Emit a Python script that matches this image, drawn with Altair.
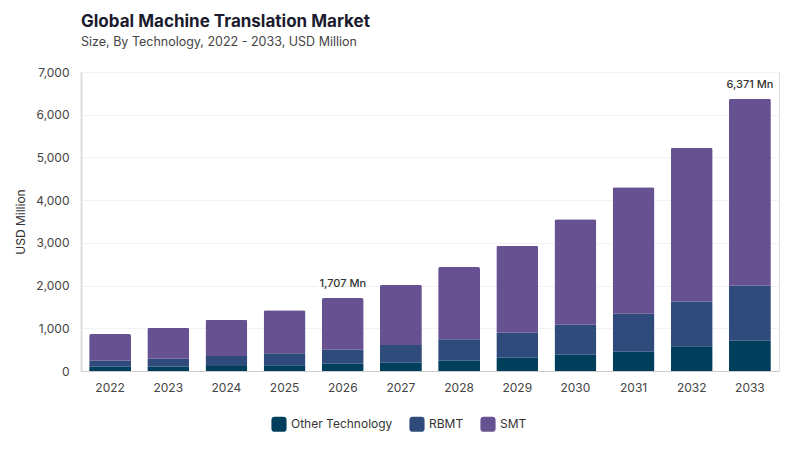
import altair as alt
import pandas as pd

years = ["2022", "2023", "2024", "2025", "2026", "2027", "2028", "2029", "2030", "2031", "2032", "2033"]
other_tech = [100, 105, 118, 133, 171, 194, 241, 311, 382, 452, 578, 709]
rbmt = [141, 183, 233, 281, 328, 415, 501, 586, 702, 890, 1045, 1288]
smt = [625, 726, 850, 1007, 1208, 1412, 1693, 2037, 2468, 2959, 3606, 4374]
series_names = ["Other Technology", "RBMT", "SMT"]
series_colors = ["#003f5c", "#2f4b7c", "#665191"]
label_years = ["2026", "2033"]
y_ticks = [0, 1000, 2000, 3000, 4000, 5000, 6000, 7000]

rows = []
for i, y in enumerate(years):
    for k, (name, vals) in enumerate(zip(series_names, [other_tech, rbmt, smt])):
        rows.append({"year": y, "tech": name, "value": vals[i], "order": k})
df = pd.DataFrame(rows)

totals = pd.DataFrame({
    "year": years,
    "total": [a + b + c for a, b, c in zip(other_tech, rbmt, smt)],
})
labels_df = totals[totals["year"].isin(label_years)].copy()
labels_df["label"] = labels_df["total"].map(lambda v: f"{v:,} Mn")

FONT = "Inter"
ROUNDED_SQUARE = ("M-0.55,-1 L0.55,-1 Q1,-1 1,-0.55 L1,0.55 Q1,1 0.55,1 "
                  "L-0.55,1 Q-1,1 -1,0.55 L-1,-0.55 Q-1,-1 -0.55,-1 Z")

x_enc = alt.X("year:N", title=None, sort=years,
              scale=alt.Scale(paddingInner=0.28, paddingOuter=0.14),
              axis=alt.Axis(labelAngle=0, labelFontSize=12, labelColor="#444444",
                            labelPadding=11, domainColor="#cccccc", ticks=False,
                            labelFont=FONT, grid=False))

bars = alt.Chart(df).mark_bar(cornerRadiusTopLeft=2, cornerRadiusTopRight=2).encode(
    x=x_enc,
    y=alt.Y("value:Q", stack="zero", title="USD Million",
            scale=alt.Scale(domain=[0, 7000]),
            axis=alt.Axis(values=y_ticks, format=",.0f", labelFontSize=12, labelColor="#444444",
                          labelFont=FONT, titleFont=FONT, titleFontSize=12,
                          titleFontWeight="normal", titleColor="#333333", titlePadding=8,
                          domainColor="#dddddd", domainWidth=2, ticks=False, labelPadding=12,
                          gridColor="#f2f2f2")),
    color=alt.Color("tech:N", sort=series_names,
                    scale=alt.Scale(domain=series_names, range=series_colors),
                    legend=alt.Legend(title=None, orient="none", direction="horizontal",
                                      legendX=190, legendY=344, symbolType=ROUNDED_SQUARE,
                                      symbolSize=230, symbolStrokeWidth=0,
                                      labelFontSize=12, labelFont=FONT, labelColor="#333333",
                                      columnPadding=16, symbolOpacity=1)),
    order=alt.Order("order:Q"),
)

text = alt.Chart(labels_df).mark_text(dy=-14, fontSize=11, fontWeight=500, color="#333333",
                                      font=FONT).encode(
    x=alt.X("year:N", sort=years),
    y=alt.Y("total:Q"),
    text="label:N",
)

chart = alt.layer(bars, text).properties(
    width=698, height=299,
    autosize=alt.AutoSizeParams(type="none"),
    padding={"left": 73, "top": 64, "right": 10, "bottom": 70},
    title=alt.TitleParams(
        "Global Machine Translation Market",
        subtitle="Size, By Technology, 2022 - 2033, USD Million",
        anchor="start", font=FONT, fontSize=17, fontWeight="bold", color="#1b1b2f",
        subtitleFont=FONT, subtitleFontSize=12.5, subtitleColor="#444444",
        subtitlePadding=5, offset=17, frame="group",
    ),
).configure_view(stroke=None).configure(background="white")

chart.save("out.html", embed_options={"renderer": "svg", "actions": False})
